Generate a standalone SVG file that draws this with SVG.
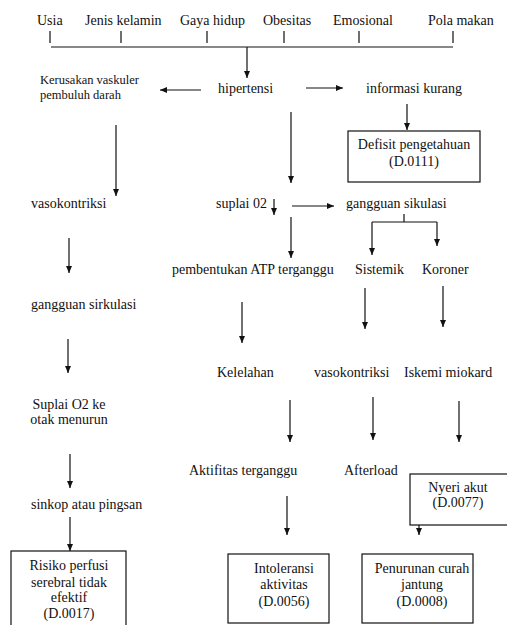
<svg xmlns="http://www.w3.org/2000/svg" width="507" height="625" viewBox="0 0 507 625">
<style>
text{font-family:'Liberation Serif','DejaVu Serif',serif;font-size:14px;fill:#111}
.s{font-size:12.5px}
.m{text-anchor:middle}
.ln{stroke:#111;stroke-width:1.2;fill:none}
.ar{stroke:#111;stroke-width:1.2;fill:none;marker-end:url(#ah)}
.box{fill:#fff;stroke:#111;stroke-width:1.2}
</style>
<defs>
<marker id="ah" markerUnits="userSpaceOnUse" markerWidth="7" markerHeight="6" refX="7" refY="3" orient="auto">
<path d="M0,0 L7,3 L0,6 z" fill="#111"/>
</marker>
</defs>
<rect width="507" height="625" fill="#fff"/>
<g id="risk-factors">
<text x="37" y="25">Usia</text>
<text x="85" y="25">Jenis kelamin</text>
<text x="180" y="25">Gaya hidup</text>
<text x="263" y="25">Obesitas</text>
<text x="333" y="25">Emosional</text>
<text x="428" y="25">Pola makan</text>
</g>
<g id="hipertensi"><text x="218" y="93">hipertensi</text></g>
<g id="kerusakan"><text class="s" x="40" y="84">Kerusakan vaskuler</text><text class="s" x="40" y="99">pembuluh darah</text></g>
<g id="informasi"><text x="366" y="93">informasi kurang</text></g>
<g id="defisit"><rect class="box" x="348" y="131" width="132" height="51"/><text class="m" x="414" y="149">Defisit pengetahuan</text><text class="m" x="414" y="166">(D.0111)</text></g>
<g id="vasokontriksi1"><text x="31" y="208">vasokontriksi</text></g>
<g id="suplai"><text x="216" y="208">suplai 02</text></g>
<g id="gangguan-sikulasi"><text x="346" y="208">gangguan sikulasi</text></g>
<g id="atp"><text x="172" y="274">pembentukan ATP terganggu</text></g>
<g id="sistemik"><text x="355" y="274">Sistemik</text></g>
<g id="koroner"><text x="422" y="274">Koroner</text></g>
<g id="gangguan-sirkulasi"><text x="31" y="309">gangguan sirkulasi</text></g>
<g id="kelelahan"><text x="217" y="377">Kelelahan</text></g>
<g id="vasokontriksi2"><text x="314" y="377">vasokontriksi</text></g>
<g id="iskemi"><text x="404" y="377">Iskemi miokard</text></g>
<g id="suplai-otak"><text class="m" x="69" y="409">Suplai O2 ke</text><text class="m" x="69" y="424">otak menurun</text></g>
<g id="aktifitas"><text x="189" y="475">Aktifitas terganggu</text></g>
<g id="afterload"><text x="344" y="475">Afterload</text></g>
<g id="nyeri"><rect class="box" x="410" y="474" width="110" height="51"/><text class="m" x="458" y="492">Nyeri akut</text><text class="m" x="458" y="507">(D.0077)</text></g>
<g id="sinkop"><text x="31" y="509">sinkop atau pingsan</text></g>
<g id="risiko"><rect class="box" x="11" y="551" width="115" height="80"/><text class="m" x="69" y="570">Risiko perfusi</text><text class="m" x="69" y="587">serebral tidak</text><text class="m" x="69" y="602">efektif</text><text class="m" x="69" y="618">(D.0017)</text></g>
<g id="intoleransi"><rect class="box" x="228" y="554" width="101" height="69"/><text class="m" x="284" y="573">Intoleransi</text><text class="m" x="284" y="589">aktivitas</text><text class="m" x="284" y="606">(D.0056)</text></g>
<g id="penurunan"><rect class="box" x="362" y="554" width="111" height="69"/><text class="m" x="422" y="573">Penurunan curah</text><text class="m" x="422" y="589">jantung</text><text class="m" x="422" y="606">(D.0008)</text></g>
<g id="connectors">
<path class="ln" d="M50,31V43 M121,31V43 M207,31V43 M284,31V43 M359,31V43 M453,31V43 M51,47H453"/>
<line class="ar" x1="247" y1="47" x2="247" y2="78"/>
<line class="ar" x1="201" y1="90" x2="160" y2="90"/>
<line class="ar" x1="306" y1="88" x2="343" y2="88"/>
<line class="ar" x1="407" y1="104" x2="407" y2="130"/>
<line class="ar" x1="116" y1="125" x2="116" y2="196"/>
<line class="ar" x1="291" y1="112" x2="291" y2="183"/>
<line class="ar" x1="274" y1="199" x2="274" y2="215"/>
<line class="ar" x1="292" y1="206" x2="334" y2="206"/>
<path class="ln" d="M404,214V222 M372,222H437"/>
<line class="ar" x1="372" y1="222" x2="372" y2="255"/>
<line class="ar" x1="437" y1="222" x2="437" y2="246"/>
<line class="ar" x1="291" y1="217" x2="291" y2="258"/>
<line class="ar" x1="69" y1="238" x2="69" y2="273"/>
<line class="ar" x1="68" y1="339" x2="68" y2="373"/>
<line class="ar" x1="242" y1="302" x2="242" y2="343"/>
<line class="ar" x1="365" y1="288" x2="365" y2="329"/>
<line class="ar" x1="443" y1="286" x2="443" y2="327"/>
<line class="ar" x1="290" y1="400" x2="290" y2="442"/>
<line class="ar" x1="373" y1="397" x2="373" y2="440"/>
<line class="ar" x1="459" y1="401" x2="459" y2="442"/>
<line class="ar" x1="70" y1="454" x2="70" y2="488"/>
<line class="ar" x1="70" y1="517" x2="70" y2="551"/>
<line class="ar" x1="287" y1="496" x2="287" y2="535"/>
<line class="ar" x1="419" y1="525" x2="419" y2="535"/>
</g>
</svg>
